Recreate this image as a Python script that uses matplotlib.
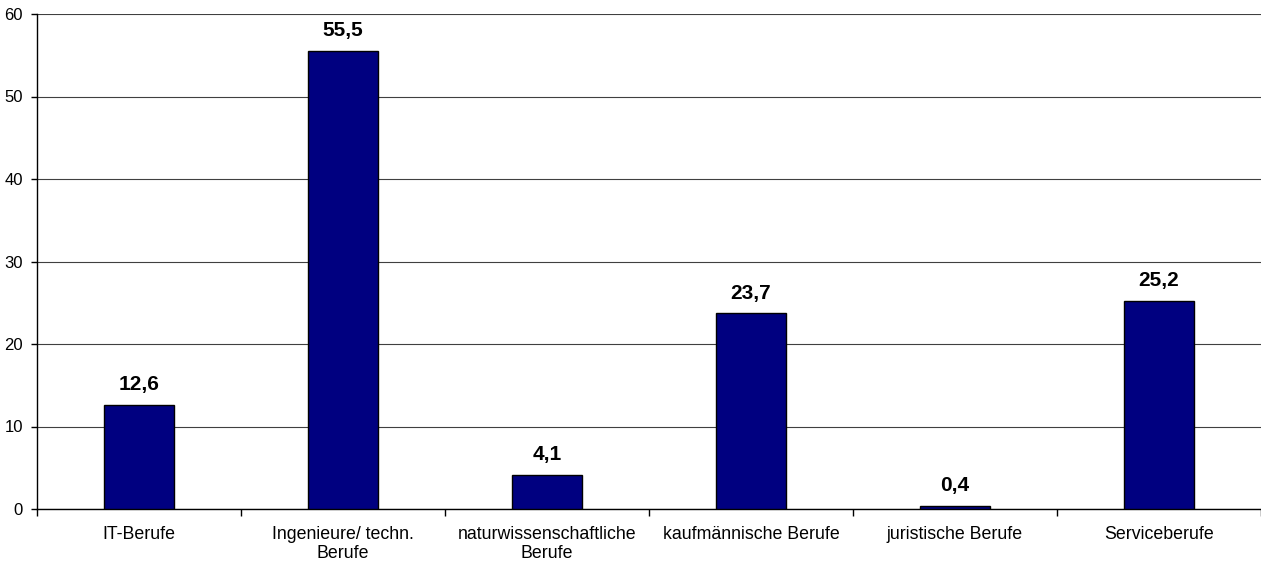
import matplotlib
matplotlib.use("Agg")
import matplotlib.pyplot as plt
import numpy as np

plt.rcParams['font.family'] = ['Liberation Sans', 'DejaVu Sans']

categories = ['IT-Berufe', 'Ingenieure/ techn.\nBerufe', 'naturwissenschaftliche\nBerufe',
              'kaufmännische Berufe', 'juristische Berufe', 'Serviceberufe']
values = [12.6, 55.5, 4.1, 23.7, 0.4, 25.2]
yticks = [0, 10, 20, 30, 40, 50, 60]

fig = plt.figure(figsize=(12.61, 5.67), dpi=100)
ax = fig.add_axes([37 / 1261, 1 - 509 / 567, 1 - 37 / 1261, (509 - 14) / 567])

x = np.arange(len(categories))
ax.bar(x, values, width=0.34, color='#000080', edgecolor='black', linewidth=1, zorder=3)

for xi, v in zip(x, values):
    ax.text(xi, v + 1.3, f'{v:.1f}'.replace('.', ','), ha='center', va='bottom',
            fontsize=15, fontweight='bold')

ax.set_xlim(-0.5, len(categories) - 0.5)
ax.set_ylim(0, 60)
ax.set_yticks(yticks)
ax.tick_params(axis='y', labelsize=12, length=4, width=1, pad=6)
ax.yaxis.grid(True, color='#404040', linewidth=0.8, zorder=0)

ax.set_xticks(x)
ax.set_xticklabels(categories, fontsize=12.8)
ax.tick_params(axis='x', which='major', length=0, pad=12)
ax.set_xticks(np.arange(len(categories) + 1) - 0.5, minor=True)
ax.tick_params(axis='x', which='minor', length=5, width=1)

ax.spines['right'].set_visible(False)
ax.spines['top'].set_visible(False)
ax.spines['left'].set_linewidth(1)
ax.spines['bottom'].set_linewidth(1)

fig.savefig('out.png', dpi=100)
